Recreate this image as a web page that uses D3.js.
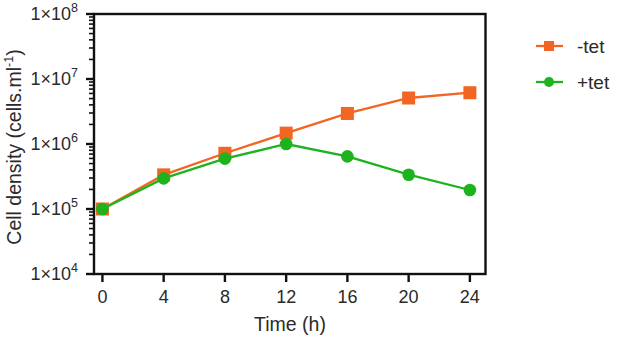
<!DOCTYPE html>
<html><head><meta charset="utf-8">
<script src="https://cdn.jsdelivr.net/npm/d3@7"></script>
<style>body{margin:0;background:#fff}svg{display:block}text{font-family:"Liberation Sans",Arial,sans-serif;fill:#2a2a2a}</style>
</head><body><svg id="c" width="617" height="340"></svg>
<script>
const times = [0, 4, 8, 12, 16, 20, 24];
const minusTet = [1e5, 3.35e5, 7.2e5, 1.47e6, 2.95e6, 5.1e6, 6.15e6];
const plusTet = [1e5, 2.96e5, 5.95e5, 1.0e6, 6.45e5, 3.37e5, 1.96e5];
const xTicks = [0, 4, 8, 12, 16, 20, 24];
const yExponents = [4, 5, 6, 7, 8];
const seriesNames = ["-tet", "+tet"];
const colors = ["#f26522", "#1db31d"];

const svg = d3.select("#c");
const L = 94, R = 485.5, T = 14, B = 274;
const x = d3.scaleLinear().domain([-0.55, 25.02]).range([L, R]);
const y = d3.scaleLog().domain([1e4, 1e8]).range([B, T]);

svg.append("rect").attr("x", L).attr("y", T).attr("width", R - L).attr("height", B - T)
  .attr("fill", "none").attr("stroke", "#111").attr("stroke-width", 2.4);

const yMinor = [];
for (let e = 4; e < 8; e++) for (let m = 2; m <= 9; m++) yMinor.push(m * Math.pow(10, e));
svg.append("g").selectAll("line").data(yMinor).join("line")
  .attr("x1", L - 5).attr("x2", L).attr("y1", d => y(d)).attr("y2", d => y(d))
  .attr("stroke", "#111").attr("stroke-width", 1.6);
svg.append("g").selectAll("line").data(yExponents).join("line")
  .attr("x1", L - 8).attr("x2", L).attr("y1", d => y(Math.pow(10, d))).attr("y2", d => y(Math.pow(10, d)))
  .attr("stroke", "#111").attr("stroke-width", 2.4);
const yl = svg.append("g").selectAll("text").data(yExponents).join("text")
  .attr("x", 78).attr("y", d => y(Math.pow(10, d)) + 6)
  .attr("text-anchor", "end").attr("font-size", 18);
yl.append("tspan").text("1×10");
yl.append("tspan").attr("dy", -8).attr("font-size", 12.5).text(d => d);

svg.append("g").selectAll("line").data(xTicks).join("line")
  .attr("x1", d => x(d)).attr("x2", d => x(d)).attr("y1", B).attr("y2", B + 8)
  .attr("stroke", "#111").attr("stroke-width", 2.4);
svg.append("g").selectAll("text").data(xTicks).join("text")
  .attr("x", d => x(d)).attr("y", 303).attr("text-anchor", "middle").attr("font-size", 18).text(d => d);

svg.append("text").attr("x", 290).attr("y", 331).attr("text-anchor", "middle").attr("font-size", 19.5).text("Time (h)");
const ylab = svg.append("text").attr("transform", `translate(21,${(T + B) / 2 + 3}) rotate(-90)`)
  .attr("text-anchor", "middle").attr("font-size", 19.5);
ylab.append("tspan").text("Cell density (cells.ml");
ylab.append("tspan").attr("dy", -8).attr("font-size", 12.5).text("-1");
ylab.append("tspan").attr("dy", 8).text(")");

const line = d3.line().x((d, i) => x(times[i])).y(d => y(d));
const data = [minusTet, plusTet];
data.forEach((vals, k) => {
  svg.append("path").attr("d", line(vals)).attr("fill", "none").attr("stroke", colors[k]).attr("stroke-width", 2.3);
  const g = svg.append("g");
  if (k === 0) {
    g.selectAll("rect").data(vals).join("rect")
      .attr("x", (d, i) => x(times[i]) - 6.5).attr("y", d => y(d) - 6.5).attr("width", 13).attr("height", 13).attr("fill", colors[k]);
  } else {
    g.selectAll("circle").data(vals).join("circle")
      .attr("cx", (d, i) => x(times[i])).attr("cy", d => y(d)).attr("r", 6.3).attr("fill", colors[k]);
  }
});

const legY = [46, 82];
seriesNames.forEach((n, k) => {
  svg.append("line").attr("x1", 536).attr("x2", 563).attr("y1", legY[k]).attr("y2", legY[k]).attr("stroke", colors[k]).attr("stroke-width", 2.3);
  if (k === 0) svg.append("rect").attr("x", 544).attr("y", legY[k] - 5).attr("width", 10).attr("height", 10).attr("fill", colors[k]);
  else svg.append("circle").attr("cx", 549).attr("cy", legY[k]).attr("r", 5).attr("fill", colors[k]);
  svg.append("text").attr("x", 577).attr("y", legY[k] + 7).attr("font-size", 19).text(n);
});
</script></body></html>
